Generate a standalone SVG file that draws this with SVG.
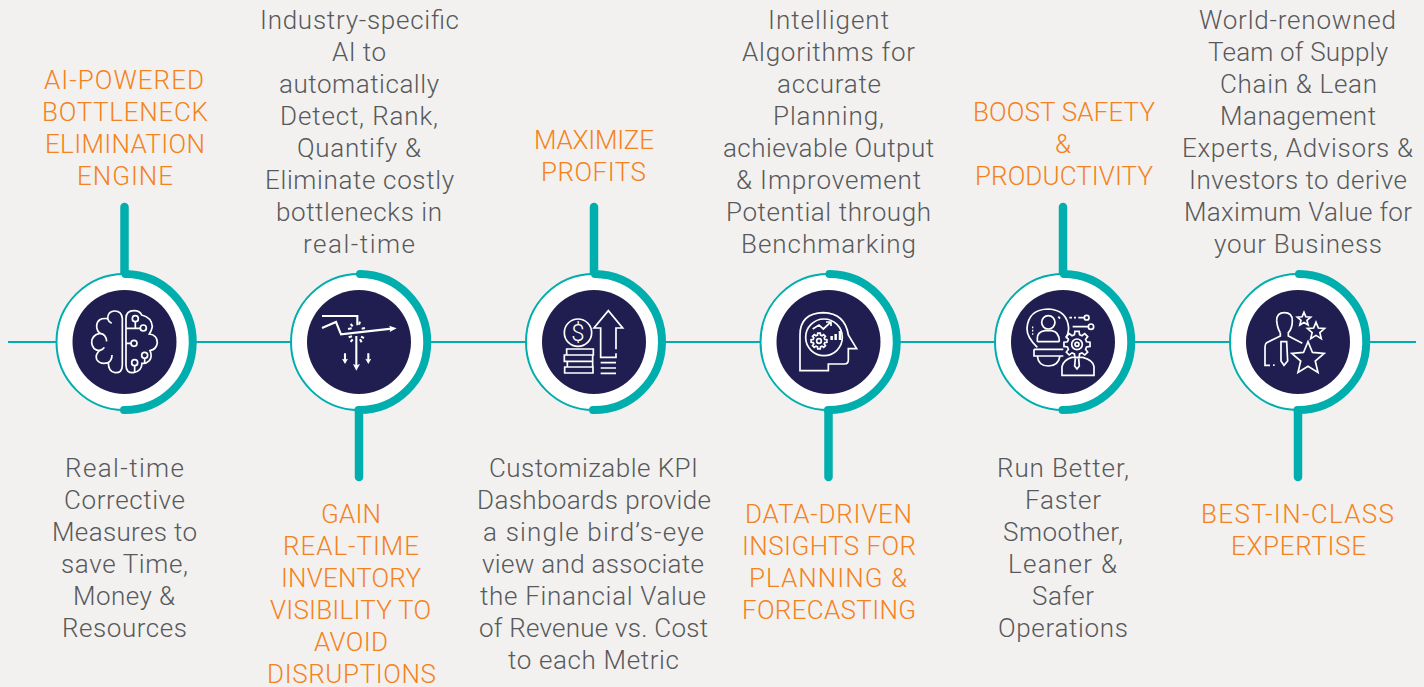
<svg xmlns="http://www.w3.org/2000/svg" width="1424" height="687" viewBox="0 0 1424 687">
<style>
text{font-family:"Roboto","Liberation Sans",sans-serif;font-size:26px;font-weight:300;text-anchor:middle;lengthAdjust:spacing}
.h{fill:#F58220}
.b{fill:#58595B}
.ring{fill:#fff;stroke:#00AEAE;stroke-width:2}
.arc{fill:none;stroke:#00AEAE;stroke-width:8;stroke-linecap:round}
.core{fill:#201E50}
.stem{stroke:#00AEAE;stroke-width:8.5;stroke-linecap:round;fill:none}
.axis{stroke:#00AEAE;stroke-width:2;fill:none}
.i *,#gear,#star{fill:none;stroke:#fff;stroke-width:1.7;vector-effect:non-scaling-stroke;stroke-linejoin:miter}
#gear,#star{fill:inherit}
.i .f{fill:#fff;stroke:none}
.i .o{fill:#201E50}
.i text{fill:#fff;stroke:none;font-size:72px;font-weight:300}
.t *{stroke-width:2.100}
</style>
<defs>
<polygon id="gear" points="17.4,-4.7 23.7,-3.8 23.7,3.8 17.4,4.7 15.6,9 19.4,14.1 14.1,19.4 9,15.6 4.7,17.4 3.8,23.7 -3.8,23.7 -4.7,17.4 -9,15.6 -14.1,19.4 -19.4,14.1 -15.6,9 -17.4,4.7 -23.7,3.8 -23.7,-3.8 -17.4,-4.7 -15.6,-9 -19.4,-14.1 -14.1,-19.4 -9,-15.6 -4.7,-17.4 -3.8,-23.7 3.8,-23.7 4.7,-17.4 9,-15.6 14.1,-19.4 19.4,-14.1 15.6,-9"/>
<polygon id="star" points="0,-10 2.65,-3.64 9.51,-3.09 4.28,1.39 5.88,8.09 0,4.5 -5.88,8.09 -4.28,1.39 -9.51,-3.09 -2.65,-3.64"/>
</defs>
<rect width="1424" height="687" fill="#F2F1EF"/>
<g id="connectors">
<line class="axis" x1="8" y1="342" x2="1416" y2="342"/>
<line class="stem" x1="124.5" y1="207" x2="124.5" y2="274"/>
<line class="stem" x1="359" y1="410" x2="359" y2="477"/>
<line class="stem" x1="594" y1="207" x2="594" y2="274"/>
<line class="stem" x1="828.5" y1="410" x2="828.5" y2="477"/>
<line class="stem" x1="1063" y1="207" x2="1063" y2="274"/>
<line class="stem" x1="1298" y1="410" x2="1298" y2="477"/>
</g>
<g id="node-1">
<circle class="ring" cx="124.5" cy="342" r="68"/>
<path class="arc" d="M125.5 274A68 68 0 0 1 124 410"/>
<circle class="core" cx="124.5" cy="342" r="52"/>
<g class="i" transform="translate(40 260) scale(.3333)">
<path d="M247 175Q245 152 222 153Q203 155 203 176Q172 172 170 198Q170 212 180 220Q155 225 155 248Q157 270 178 272Q165 285 170 298Q180 315 205 308Q205 335 225 338Q247 340 247 315Z"/>
<path d="M203 176Q205 185 215 190M180 220Q198 222 200 244M178 272Q190 268 193 262M205 308Q216 300 216 285"/>
<path d="M258 175Q258 152 282 152Q300 152 305 165Q335 172 337 200Q335 212 328 222Q352 225 352 248Q350 268 330 272Q338 290 328 302Q318 312 306 310Q305 335 280 338Q258 340 258 315Z"/>
<circle class="o" cx="286" cy="176" r="9"/><circle class="o" cx="310" cy="204" r="9"/><circle class="o" cx="282" cy="250" r="9"/><circle class="o" cx="314" cy="286" r="9"/><circle class="o" cx="284" cy="308" r="9"/>
<path d="M286 185V205H301M258 205H286M258 250H273M284 317V338M314 295V310"/>
</g>
<text class="h" x="124" y="89" textLength="160">AI-POWERED</text>
<text class="h" x="125" y="121" textLength="166">BOTTLENECK</text>
<text class="h" x="125" y="153" textLength="160">ELIMINATION</text>
<text class="h" x="125" y="185" textLength="96">ENGINE</text>
<text class="b" x="124.500" y="477" textLength="119">Real-time</text>
<text class="b" x="124.500" y="509" textLength="121">Corrective</text>
<text class="b" x="124.500" y="541" textLength="145">Measures to</text>
<text class="b" x="124.500" y="573" textLength="127">save Time,</text>
<text class="b" x="124" y="605" textLength="102">Money &amp;</text>
<text class="b" x="124.500" y="637" textLength="125">Resources</text>
</g>
<g id="node-2">
<circle class="ring" cx="359" cy="342" r="68"/>
<path class="arc" d="M360 274A68 68 0 0 1 358.500 410"/>
<circle class="core" cx="359" cy="342" r="52"/>
<g class="i t" transform="translate(280 260) scale(.3333)">
<path d="M126 168H232V196M126 204L168 186L183 223L335 206M229 228V318M195 280V300M265 280V300"/>
<path class="f" d="M350 205L328 197L331 207L329 216ZM229 332L219 312L229 316L240 312ZM195 312L186 296L195 299L204 296ZM265 312L256 296L265 299L274 296Z"/>
<path d="M204 207L215 205M212 192L218 199M240 185L237 194M255 204L245 206M206 232L216 229M212 246L218 238M245 247L240 238M252 234L243 230"/>
</g>
<text class="b" x="359.500" y="29" textLength="199">Industry-specific</text>
<text class="b" x="359" y="61" textLength="54">AI to</text>
<text class="b" x="359" y="93" textLength="160">automatically</text>
<text class="b" x="359" y="125" textLength="158">Detect, Rank,</text>
<text class="b" x="359" y="157" textLength="124">Quantify &amp;</text>
<text class="b" x="359.500" y="189" textLength="189">Eliminate costly</text>
<text class="b" x="359" y="221" textLength="166">bottlenecks in</text>
<text class="b" x="359" y="253" textLength="112">real-time</text>
<text class="h" x="351" y="523" textLength="60">GAIN</text>
<text class="h" x="351" y="555" textLength="136">REAL-TIME</text>
<text class="h" x="351" y="587" textLength="140">INVENTORY</text>
<text class="h" x="350.500" y="619" textLength="161">VISIBILITY TO</text>
<text class="h" x="351" y="651" textLength="74">AVOID</text>
<text class="h" x="351.500" y="683" textLength="169">DISRUPTIONS</text>
</g>
<g id="node-3">
<circle class="ring" cx="594" cy="342" r="68"/>
<path class="arc" d="M595 274A68 68 0 0 1 593 410"/>
<circle class="core" cx="594" cy="342" r="52"/>
<g class="i" transform="translate(510 260) scale(.3333)">
<circle cx="204" cy="218" r="41"/>
<text x="204" y="244">$</text>
<path d="M170 267H250V285H170ZM163 285H248V304H163ZM172 304H248V321H172ZM164 321H249V339H164Z"/>
<path d="M318 268V204H338L295 152L252 204H272V292H318V280"/>
<path d="M272 308H318M272 324H318M272 340H318"/>
</g>
<text class="h" x="594" y="149" textLength="120">MAXIMIZE</text>
<text class="h" x="593.500" y="181" textLength="105">PROFITS</text>
<text class="b" x="593.500" y="477" textLength="209">Customizable KPI</text>
<text class="b" x="594" y="509" textLength="234">Dashboards provide</text>
<text class="b" x="593.500" y="541" textLength="221">a single bird’s-eye</text>
<text class="b" x="593" y="573" textLength="222">view and associate</text>
<text class="b" x="593" y="605" textLength="226">the Financial Value</text>
<text class="b" x="593.500" y="637" textLength="229">of Revenue vs. Cost</text>
<text class="b" x="593.500" y="669" textLength="171">to each Metric</text>
</g>
<g id="node-4">
<circle class="ring" cx="828.500" cy="342" r="68"/>
<path class="arc" d="M829.500 274A68 68 0 0 1 828 410"/>
<circle class="core" cx="828.500" cy="342" r="52"/>
<g class="i" transform="translate(745 260) scale(.3333)">
<path d="M165 332V225Q165 160 235 158Q300 160 310 225L335 266H310V300Q310 312 298 312H250V332Z"/>
<circle cx="237" cy="232" r="55"/>
<path d="M203 207L222 195L235 207L258 186M243 186H258V198"/>
<use class="o" href="#gear" transform="translate(222 243)"/>
<circle cx="222" cy="243" r="7"/>
<path d="M260 228V240M272 222V240M285 213V240" style="stroke-width:2.500"/>
</g>
<text class="b" x="828.500" y="29" textLength="121">Intelligent</text>
<text class="b" x="828.500" y="61" textLength="173">Algorithms for</text>
<text class="b" x="829" y="93" textLength="104">accurate</text>
<text class="b" x="828.500" y="125" textLength="111">Planning,</text>
<text class="b" x="828.500" y="157" textLength="211">achievable Output</text>
<text class="b" x="828.500" y="189" textLength="185">&amp; Improvement</text>
<text class="b" x="828.500" y="221" textLength="205">Potential through</text>
<text class="b" x="828.500" y="253" textLength="175">Benchmarking</text>
<text class="h" x="828.500" y="523" textLength="167">DATA-DRIVEN</text>
<text class="h" x="829" y="555" textLength="174">INSIGHTS FOR</text>
<text class="h" x="828" y="587" textLength="158">PLANNING &amp;</text>
<text class="h" x="829" y="619" textLength="174">FORECASTING</text>
</g>
<g id="node-5">
<circle class="ring" cx="1063" cy="342" r="68"/>
<path class="arc" d="M1064 274A68 68 0 0 1 1062.500 410"/>
<circle class="core" cx="1063" cy="342" r="52"/>
<g class="i" transform="translate(980 260) scale(.3333)">
<path d="M172 262Q140 232 141 205Q145 148 205 147Q262 150 266 205Q266 220 258 235"/>
<circle cx="205" cy="187" r="20"/>
<path d="M172 245V235Q172 215 195 212H215Q238 215 238 245M172 245H238"/>
<path d="M162 268H250M162 268V288H250M172 288Q175 318 205 318Q235 318 240 288"/>
<path d="M156 202H160M156 212H160M156 222H160M235 170L240 176"/>
<path d="M268 173H276M282 173H288M295 173H312M278 200H325"/>
<circle cx="320" cy="173" r="7"/><circle cx="333" cy="200" r="8"/>
<path class="o" d="M246 346V320Q250 300 275 292H308Q340 300 342 320V346Z"/>
<path d="M286 295L284 318L291 327L298 318L296 295"/>
<use class="o" href="#gear" transform="translate(291 253) scale(1.650)"/>
<circle cx="291" cy="253" r="16"/><circle cx="291" cy="253" r="6"/>
</g>
<text class="h" x="1064" y="121" textLength="182">BOOST SAFETY</text>
<text class="h" x="1063" y="153" textLength="18">&amp;</text>
<text class="h" x="1064" y="185" textLength="178">PRODUCTIVITY</text>
<text class="b" x="1063" y="477" textLength="132">Run Better,</text>
<text class="b" x="1063" y="509" textLength="76">Faster</text>
<text class="b" x="1063" y="541" textLength="120">Smoother,</text>
<text class="b" x="1062.500" y="573" textLength="109">Leaner &amp;</text>
<text class="b" x="1063" y="605" textLength="62">Safer</text>
<text class="b" x="1063" y="637" textLength="130">Operations</text>
</g>
<g id="node-6">
<circle class="ring" cx="1298" cy="342" r="68"/>
<path class="arc" d="M1299 274A68 68 0 0 1 1297.500 410"/>
<circle class="core" cx="1298" cy="342" r="52"/>
<g class="i" transform="translate(1215 260) scale(.3333)">
<path d="M185 182Q185 158 208 158Q232 158 232 182Q232 205 220 218V228L262 250M196 218V228L155 248Q150 252 150 262V316H165"/>
<path d="M185 182Q187 205 196 218"/>
<path d="M198 245H215L218 303L207 316L198 303Z"/>
<path class="f" d="M174 313h5v5h-5z"/>
<use href="#star" transform="translate(267 178) scale(2.100)"/>
<use href="#star" transform="translate(303 214) scale(2.700)"/>
<use class="o" href="#star" transform="translate(279 296) scale(5.100)"/>
</g>
<text class="b" x="1297.500" y="29" textLength="197">World-renowned</text>
<text class="b" x="1298" y="61" textLength="180">Team of Supply</text>
<text class="b" x="1298.500" y="93" textLength="157">Chain &amp; Lean</text>
<text class="b" x="1298" y="125" textLength="156">Management</text>
<text class="b" x="1297.500" y="157" textLength="231">Experts, Advisors &amp;</text>
<text class="b" x="1298" y="189" textLength="218">Investors to derive</text>
<text class="b" x="1298" y="221" textLength="228">Maximum Value for</text>
<text class="b" x="1298" y="253" textLength="168">your Business</text>
<text class="h" x="1297.500" y="523" textLength="193">BEST-IN-CLASS</text>
<text class="h" x="1298.500" y="555" textLength="135">EXPERTISE</text>
</g>
</svg>
